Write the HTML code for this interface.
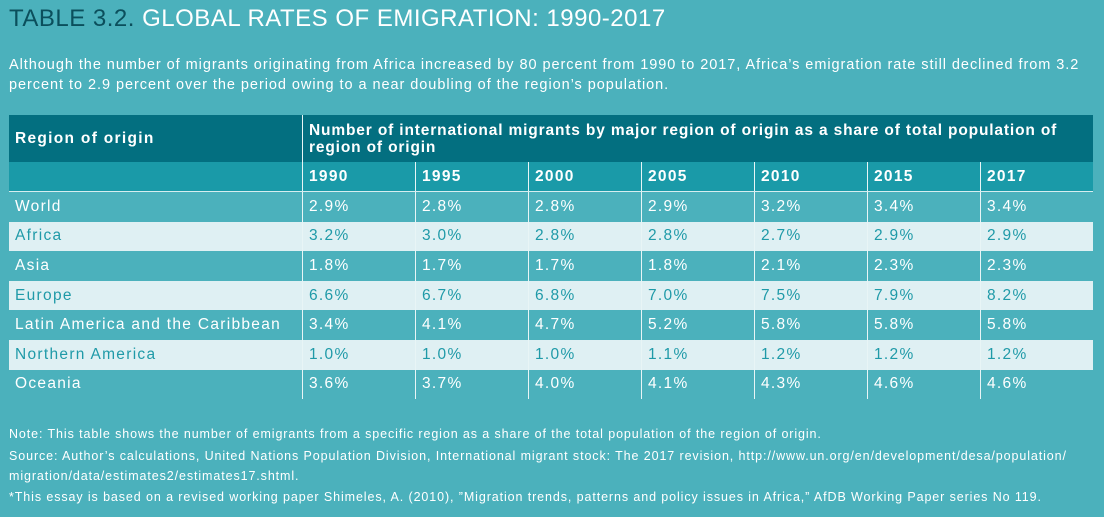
<!DOCTYPE html>
<html><head><meta charset="utf-8"><style>
body{margin:0;width:1104px;height:517px;background:#4bb1bc;font-family:"Liberation Sans",sans-serif;color:#fff;position:relative;overflow:hidden}
.a{position:absolute;white-space:nowrap}
#title{left:9px;top:5px;font-size:24px;letter-spacing:0.5px}
#title b{color:#0b4f5c;font-weight:normal}
.sub{left:9px;font-size:14.5px;letter-spacing:0.95px}
.note{left:9px;font-size:12.5px;letter-spacing:0.9px}
.cell{position:absolute;box-sizing:border-box;font-size:15.5px;letter-spacing:1.3px;padding-left:6px;display:flex;align-items:center;white-space:nowrap}
</style></head><body>
<div id="title" class="a"><b>TABLE 3.2.</b> GLOBAL RATES OF EMIGRATION: 1990-2017</div>
<div class="a sub" style="top:57px">Although the number of migrants originating from Africa increased by 80 percent from 1990 to 2017, Africa’s emigration rate still declined from 3.2</div>
<div class="a sub" style="top:77px">percent to 2.9 percent over the period owing to a near doubling of the region’s population.</div>
<div id="tbl"></div>
<div class="a note" style="top:427px">Note: This table shows the number of emigrants from a specific region as a share of the total population of the region of origin.</div>
<div class="a note" style="top:449px">Source: Author’s calculations, United Nations Population Division, International migrant stock: The 2017 revision, http://www.un.org/en/development/desa/population/</div>
<div class="a note" style="top:469px">migration/data/estimates2/estimates17.shtml.</div>
<div class="a note" style="top:490px">*This essay is based on a revised working paper Shimeles, A. (2010), ”Migration trends, patterns and policy issues in Africa,” AfDB Working Paper series No 119.</div>
<script>
const years=["1990","1995","2000","2005","2010","2015","2017"];
const regions=["World","Africa","Asia","Europe","Latin America and the Caribbean","Northern America","Oceania"];
const world=[2.9,2.8,2.8,2.9,3.2,3.4,3.4];
const africa=[3.2,3.0,2.8,2.8,2.7,2.9,2.9];
const asia=[1.8,1.7,1.7,1.8,2.1,2.3,2.3];
const europe=[6.6,6.7,6.8,7.0,7.5,7.9,8.2];
const latam=[3.4,4.1,4.7,5.2,5.8,5.8,5.8];
const namerica=[1.0,1.0,1.0,1.1,1.2,1.2,1.2];
const oceania=[3.6,3.7,4.0,4.1,4.3,4.6,4.6];
const series=[world,africa,asia,europe,latam,namerica,oceania];
const T=document.getElementById('tbl');
const L=9,R=1093,C1=302,cw=(R-C1)/7,rh=29.6,r0=192;
function cell(x,y,w,h,txt,bg,col,bold,border){
  const d=document.createElement('div');d.className='cell';
  d.style.cssText=`left:${x}px;top:${y}px;width:${w}px;height:${h}px;background:${bg};color:${col};font-weight:${bold?'bold':'normal'};`+(border?'border-left:1.5px solid #e8f5f6;':'');
  d.textContent=txt;T.appendChild(d);return d;
}
let d=cell(L,115,C1-L,47,"Region of origin","#036f80","#fff",true,false);


d=cell(C1,115,R-C1,47,"","#036f80","#fff",true,true);
d.innerHTML="<span style='line-height:17px;padding-top:1px;letter-spacing:0.85px'>Number of international migrants by major region of origin as a share of total population of<br>region of origin</span>";


d=cell(L,162,C1-L,29,"","#1a9aa8","#fff",true,false);


years.forEach((y,i)=>{
  const e=cell(C1+i*cw,162,cw,29,y,"#1a9aa8","#fff",true,true);
  
  
});
const ln=document.createElement('div');ln.style.cssText=`position:absolute;left:${L}px;top:191px;width:${R-L}px;height:1.5px;background:#d7eef0`;T.appendChild(ln);


regions.forEach((r,ri)=>{
  const y=r0+ri*rh, alt=ri%2==1;
  const bg=alt?"#dff0f3":"#4bb1bc", col=alt?"#1f9aa8":"#fff";
  const e=cell(L,y,C1-L,rh,r,bg,col,false,false);
  
  
  series[ri].forEach((v,i)=>{
    const c=cell(C1+i*cw,y,cw,rh,v.toFixed(1)+"%",bg,col,false,true);
    
    
  });
});
</script>
</body></html>
